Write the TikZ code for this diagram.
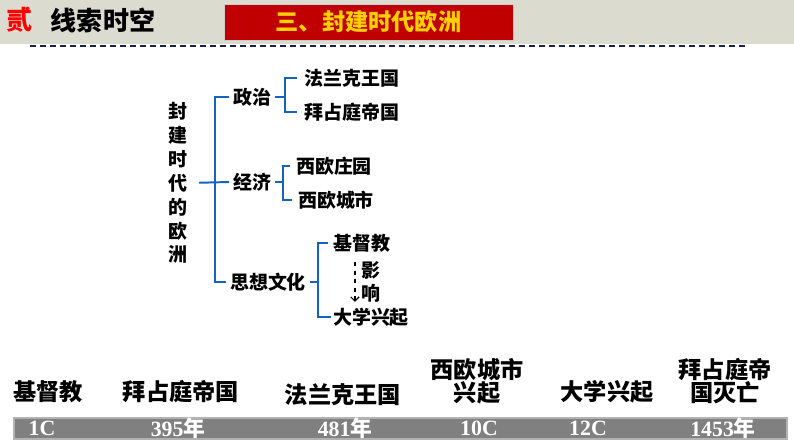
\documentclass[tikz,border=0pt]{standalone}
\usepackage{fontspec}
\newfontfamily\hei{Noto Sans CJK SC}[BoldFont={Noto Sans CJK SC Black}]
\newfontfamily\numf{Liberation Serif}
\usetikzlibrary{arrows.meta}

\definecolor{bandgray}{RGB}{220,219,208}
\definecolor{titlered}{RGB}{192,0,0}
\definecolor{titleyellow}{RGB}{255,208,0}
\definecolor{treeblue}{RGB}{20,100,190}
\definecolor{dashnavy}{RGB}{25,35,80}
\definecolor{bargray}{RGB}{128,128,128}

\begin{document}
\begin{tikzpicture}[
  x=0.025cm, y=-0.025cm,
  every node/.style={inner sep=1pt, font=\hei\bfseries\fontsize{13.5}{17}\selectfont},
  leaf/.style={inner xsep=4pt},
  mid/.style={inner xsep=2.5pt},
  big/.style={align=center, font=\hei\bfseries\fontsize{16.5}{16.5}\selectfont},
  head/.style={font=\hei\bfseries\fontsize{18.5}{20}\selectfont},
  yr/.style={text=white, font=\numf\bfseries\fontsize{15.5}{18}\selectfont},
  brk/.style={draw=treeblue, line width=1.4pt},
  infl/.style={dashed, thick, -{Straight Barb[length=3pt]}}
  ]

  \useasboundingbox (0,0) rectangle (794,447);
  \fill[white] (0,0) rectangle (794,447);

  % Header
  \fill[bandgray] (0,0) rectangle (794,44);
  \draw[dashnavy, line width=1.4pt, dash pattern=on 4.3pt off 2.8pt] (30,46) -- (748,46);
  \node[head, text=red] (er) at (20,20) {贰};
  \node[head] (xs) at (103,20) {线索时空};
  \node[draw=white!80!black, fill=titlered, text=titleyellow,
        minimum width=7.225cm, minimum height=0.9cm,
        font=\hei\bfseries\fontsize{16.5}{18}\selectfont] (ttl) at (368.5,22) {三、封建时代欧洲};

  % Define nodes
  \node[align=center, font=\hei\bfseries\fontsize{13.5}{17}\selectfont] (era) at (178,183)
    {封\\建\\时\\代\\的\\欧\\洲};

  \node[mid] (zz) at (252,97) {政治};
  \node[mid] (jj) at (252,182) {经济};
  \node[mid] (sx) at (268,282) {思想文化};

  \node[leaf, inner xsep=5.5pt] (fl) at (352,78) {法兰克王国};
  \node[leaf, inner xsep=5.5pt] (bz) at (352,112) {拜占庭帝国};
  \node[leaf] (zy) at (334,166) {西欧庄园};
  \node[leaf] (cs) at (336,200) {西欧城市};
  \node[leaf] (jd) at (362,243) {基督教};
  \node[leaf, inner xsep=1pt] (dx) at (371,317) {大学兴起};
  \node[align=center, font=\hei\bfseries\fontsize{13.5}{16.4}\selectfont] (yx) at (371,282) {影\\响};

  \coordinate (t0) at (215,182);
  \coordinate (p0) at (285,97);
  \coordinate (e0) at (283,182);
  \coordinate (s0) at (318,282);

  % Brackets
  \draw[brk, shorten <=7pt] (era.east) -- (jj.west);
  \draw[brk] (zz.west) -| (t0) |- (sx.west);
  \draw[brk] (zz.east) -- (p0);
  \draw[brk] (fl.west) -| (p0) |- (bz.west);
  \draw[brk] (jj.east) -- (e0);
  \draw[brk] (zy.west) -| (e0) |- (cs.west);
  \draw[brk] (sx.east) -- (s0);
  \draw[brk] (jd.west) -| (s0) |- (dx.west);

  % Influence
  \draw[infl, shorten <=6pt, shorten >=3pt] ([xshift=-5pt]jd.south) -- ([xshift=-5pt]jd.south |- dx.north);

  % Timeline
  \node[big] (t1) at (48,392) {基督教};
  \node[big] (t2) at (181,392) {拜占庭帝国};
  \node[big] (t3) at (343,395) {法兰克王国};
  \node[big] (t4) at (477,381) {西欧城市\\兴起};
  \node[big] (t5) at (607,392) {大学兴起};
  \node[big] (t6) at (725,381) {拜占庭帝\\国灭亡};

  \draw[fill=bargray, draw=white!70!black, line width=0.8pt] (14,418) rectangle (787,439);
  \node[yr] (y1) at (42,428) {1C};
  \node[yr] (y2) at (178,428) {395{\hei 年}};
  \node[yr] (y3) at (345,428) {481{\hei 年}};
  \node[yr] (y4) at (479,428) {10C};
  \node[yr] (y5) at (588,428) {12C};
  \node[yr] (y6) at (723,428) {1453{\hei 年}};

\end{tikzpicture}
\end{document}
